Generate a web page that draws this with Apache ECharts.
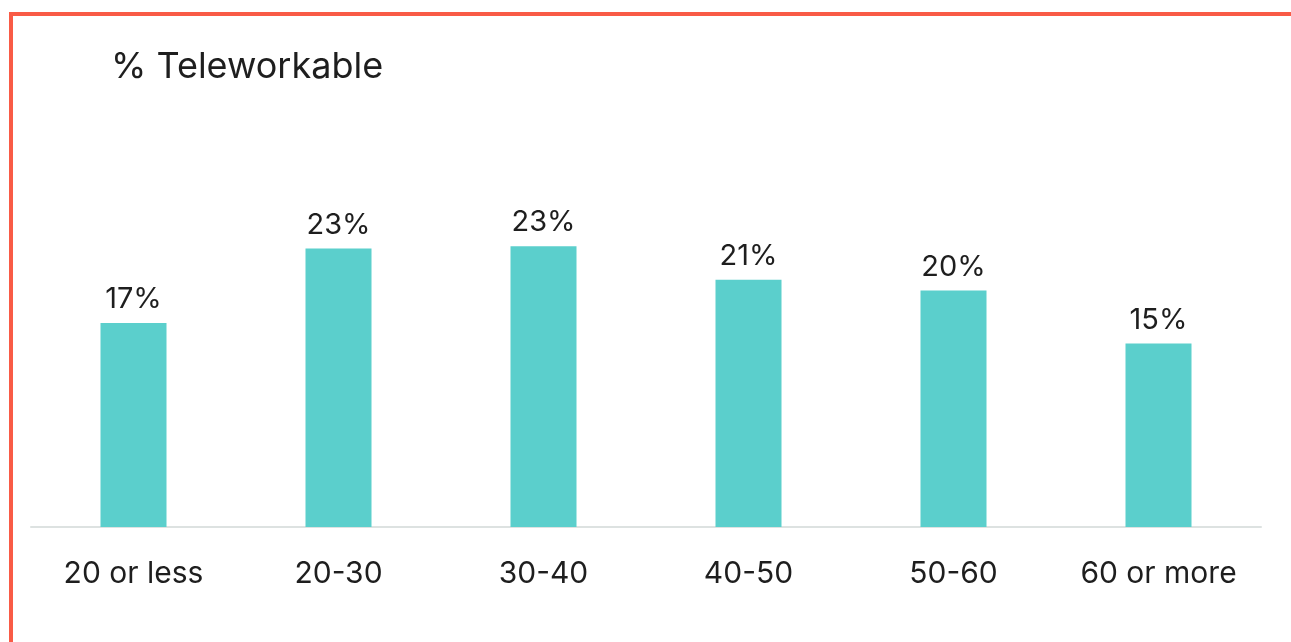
<!DOCTYPE html>
<html><head><meta charset="utf-8">
<script src="https://cdn.jsdelivr.net/npm/echarts@6/dist/echarts.min.js"></script>
<style>html,body{margin:0;padding:0;background:#fff}#c{width:1291px;height:642px}</style>
</head><body><div id="c"></div>
<script>
const titleText = '% Teleworkable';
const categories = ['20 or less', '20-30', '30-40', '40-50', '50-60', '60 or more'];
const values = [17.0, 23.2, 23.4, 20.6, 19.7, 15.3];

const chart = echarts.init(document.getElementById('c'), null, {renderer: 'canvas'});
const font = 'Inter, "Noto Sans", sans-serif';
chart.setOption({
  animation: false,
  backgroundColor: '#ffffff',
  title: {
    text: titleText, left: 106, top: 44,
    textStyle: {fontFamily: font, fontSize: 36, fontWeight: 'normal', color: '#1e1e1e'}
  },
  graphic: [
    {type: 'rect', shape: {x: 9, y: 12, width: 1282, height: 4}, style: {fill: '#f95b46'}},
    {type: 'rect', shape: {x: 9, y: 12, width: 4, height: 630}, style: {fill: '#f95b46'}}
  ],
  grid: {left: 31, right: 30, top: 167, bottom: 115, containLabel: false},
  xAxis: {
    type: 'category', data: categories,
    axisLine: {show: true, lineStyle: {color: '#dde2e1', width: 2}},
    axisTick: {show: false},
    axisLabel: {fontFamily: font, fontSize: 30, color: '#1e1e1e', margin: 32}
  },
  yAxis: {type: 'value', min: 0, max: 30, show: false, splitLine: {show: false}},
  series: [{
    type: 'bar', data: values, barWidth: 66,
    itemStyle: {color: '#5bcfcc'},
    label: {
      show: true, position: 'top', distance: 9,
      fontFamily: font, fontSize: 29, color: '#1e1e1e',
      formatter: p => Math.round(p.value) + '%'
    }
  }]
});
</script></body></html>
